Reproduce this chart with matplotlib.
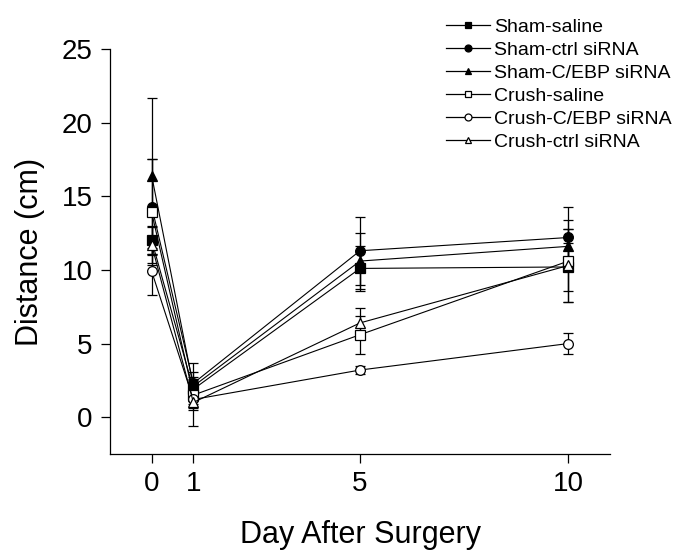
import matplotlib
matplotlib.use("Agg")
import matplotlib.pyplot as plt

plt.rcParams['font.family'] = ['Liberation Sans', 'DejaVu Sans']

days = [0, 1, 5, 10]
labels = ["Sham-saline", "Sham-ctrl siRNA", "Sham-C/EBP siRNA",
          "Crush-saline", "Crush-C/EBP siRNA", "Crush-ctrl siRNA"]

# mean distance (cm) per group
sham_saline = [12.0, 1.9, 10.1, 10.2]
sham_ctrl = [14.3, 2.3, 11.3, 12.2]
sham_cebp = [16.4, 2.1, 10.6, 11.6]
crush_saline = [13.9, 1.5, 5.6, 10.6]
crush_cebp = [9.9, 1.2, 3.2, 5.0]
crush_ctrl = [11.7, 1.0, 6.4, 10.3]

# error bars
sham_saline_err = [1.0, 0.8, 1.5, 1.6]
sham_ctrl_err = [3.2, 1.4, 2.3, 2.1]
sham_cebp_err = [5.3, 1.0, 1.9, 1.2]
crush_saline_err = [3.6, 1.0, 1.3, 2.8]
crush_cebp_err = [1.6, 0.6, 0.3, 0.7]
crush_ctrl_err = [1.2, 1.6, 1.0, 2.5]

series = [sham_saline, sham_ctrl, sham_cebp, crush_saline, crush_cebp, crush_ctrl]
errs = [sham_saline_err, sham_ctrl_err, sham_cebp_err,
        crush_saline_err, crush_cebp_err, crush_ctrl_err]
markers = ["s", "o", "^", "s", "o", "^"]
filled = [True, True, True, False, False, False]

fig = plt.figure(figsize=(6.85, 5.58), dpi=100)
ax = fig.add_axes([0.1606, 0.1864, 0.73, 0.7258])

handles = []
for y, e, m, f, lab in zip(series, errs, markers, filled, labels):
    fc = "black" if f else "white"
    ax.errorbar(days, y, yerr=e, color="black", lw=0.8, elinewidth=0.9,
                capsize=3.5, capthick=0.9, marker=m, ms=7, mfc=fc, mec="black",
                mew=0.9, zorder=3)
    h, = ax.plot([], [], color="black", lw=0.9, marker=m, ms=5, mfc=fc,
                 mec="black", mew=0.9)
    handles.append(h)

ax.set_xlim(-1, 11)
ax.set_ylim(-2.5, 25)
ax.set_xticks(days)
ax.set_yticks([0, 5, 10, 15, 20, 25])
ax.spines["top"].set_visible(False)
ax.spines["right"].set_visible(False)
for s in ax.spines.values():
    s.set_linewidth(0.9)
ax.tick_params(direction="out", length=6.5, width=0.9, labelsize=20, pad=6)

ax.set_xlabel("Day After Surgery", fontsize=22, labelpad=16)
ax.set_ylabel("Distance (cm)", fontsize=22, labelpad=12)

fig.legend(handles, labels, loc="upper left", bbox_to_anchor=(0.628, 0.995),
           frameon=False, fontsize=14, labelspacing=0.28, handlelength=2.3,
           handletextpad=0.2, borderpad=0.3)

fig.savefig("out.png", dpi=100)
